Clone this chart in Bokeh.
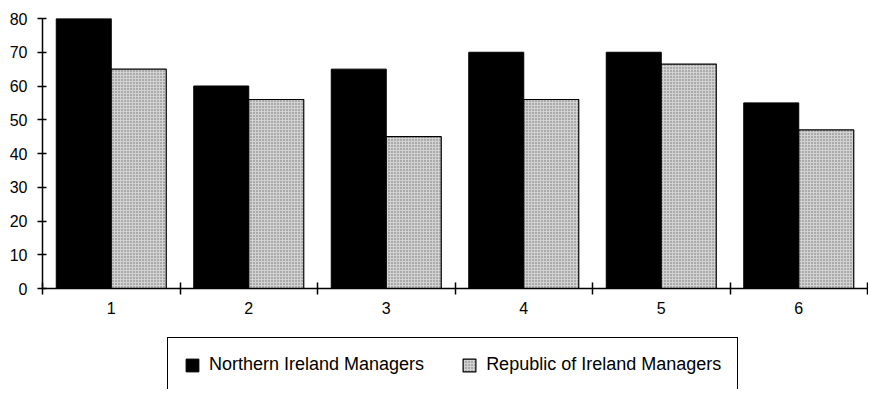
from bokeh.plotting import figure
from bokeh.layouts import column
from bokeh.models import FixedTicker, Legend, LegendItem, Range1d, ColumnDataSource
from bokeh.transform import dodge
from bokeh.embed import file_html
from bokeh.resources import INLINE

categories = [1, 2, 3, 4, 5, 6]
tick_labels = ["1", "2", "3", "4", "5", "6"]
northern = [80, 60, 65, 70, 70, 55]
republic = [65, 56, 45, 56, 66.5, 47]
y_ticks = [0, 10, 20, 30, 40, 50, 60, 70, 80]
series_names = ["Northern Ireland Managers", "Republic of Ireland Managers"]

src = ColumnDataSource(dict(x=categories, northern=northern, republic=republic))

FONT = "Liberation Sans"
BLACK_STYLE = dict(fill_color="black", line_color="black", line_width=1)
GRAY_STYLE = dict(fill_color="#d2d2d2", line_color="black", line_width=1.2,
                  hatch_pattern="dot", hatch_color="#6e6e6e", hatch_scale=3, hatch_weight=1)

p = figure(width=868, height=330, output_backend="svg", toolbar_location=None,
           x_range=Range1d(0.5, 6.5), y_range=Range1d(0, 80),
           min_border_left=42, min_border_top=18, min_border_right=1,
           min_border_bottom=42)
p.xgrid.visible = False
p.ygrid.visible = False
p.outline_line_color = None

p.vbar(x=dodge("x", -0.2, range=p.x_range), top="northern", width=0.4, bottom=0,
       source=src, **BLACK_STYLE)
p.vbar(x=dodge("x", 0.2, range=p.x_range), top="republic", width=0.4, bottom=0,
       source=src, **GRAY_STYLE)

xa = p.xaxis[0]
xa.ticker = FixedTicker(ticks=categories, minor_ticks=[c - 0.5 for c in categories] + [categories[-1] + 0.5])
xa.major_label_overrides = {c: t for c, t in zip(categories, tick_labels)}
xa.major_tick_in = 0
xa.major_tick_out = 0
xa.minor_tick_in = 6
xa.minor_tick_out = 6
xa.minor_tick_line_color = "black"
xa.minor_tick_line_width = 1.5
xa.axis_line_color = "black"
xa.axis_line_width = 1.5
xa.major_label_standoff = 7
xa.major_label_text_font = FONT
xa.major_label_text_font_size = "16px"
xa.major_label_text_color = "black"

ya = p.yaxis[0]
ya.ticker = FixedTicker(ticks=y_ticks, minor_ticks=[])
ya.major_tick_in = 4
ya.major_tick_out = 5
ya.major_tick_line_color = "black"
ya.major_tick_line_width = 1.5
ya.axis_line_color = "black"
ya.axis_line_width = 1.5
ya.major_label_standoff = 10
ya.major_label_text_font = FONT
ya.major_label_text_font_size = "16px"
ya.major_label_text_color = "black"

# legend strip (separate figure so the legend is not clipped by the chart frame)
q = figure(width=868, height=59, output_backend="svg", toolbar_location=None,
           x_range=Range1d(0, 1), y_range=Range1d(0, 1),
           x_axis_location=None, y_axis_location=None,
           min_border_left=0, min_border_top=0, min_border_right=0, min_border_bottom=0)
q.xgrid.visible = False
q.ygrid.visible = False
q.outline_line_color = None
lr1 = q.vbar(x="x", top="northern", width=0.4, source=src, visible=False, **BLACK_STYLE)
lr2 = q.vbar(x="x", top="republic", width=0.4, source=src, visible=False, **GRAY_STYLE)

legend = Legend(items=[LegendItem(label=series_names[0], renderers=[lr1]),
                       LegendItem(label=series_names[1], renderers=[lr2])],
                orientation="horizontal", location=(125, -3),
                border_line_color="black", border_line_width=1.5, border_line_alpha=1.0,
                background_fill_alpha=0, inactive_fill_alpha=0,
                padding=16, spacing=37, margin=0,
                label_text_font=FONT, label_text_font_size="18px",
                label_text_color="black",
                glyph_width=16, glyph_height=16, label_standoff=9)
q.add_layout(legend, "center")

layout = column(p, q, spacing=0)
open("out.html", "w").write(file_html(layout, INLINE))
